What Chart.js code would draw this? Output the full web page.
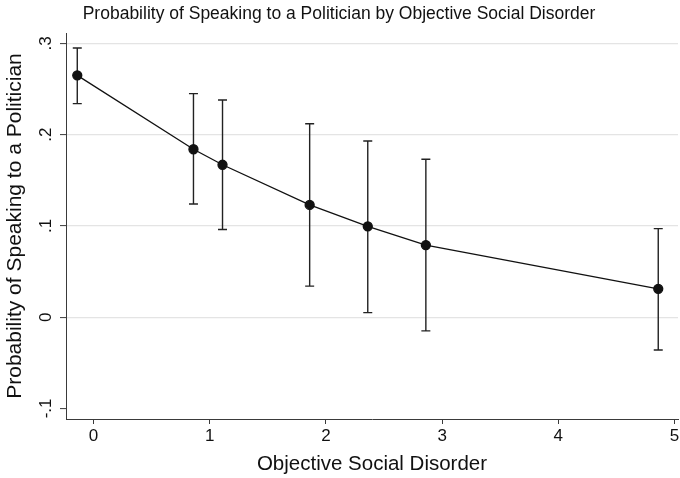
<!DOCTYPE html>
<html>
<head>
<meta charset="utf-8">
<title>Probability of Speaking to a Politician</title>
<script src="https://cdn.jsdelivr.net/npm/chart.js@4/dist/chart.umd.min.js"></script>
<style>
  html, body { margin: 0; padding: 0; background: #fff; }
  #wrap { width: 680px; height: 478px; }
</style>
</head>
<body>
<div id="wrap"><canvas id="chart" width="680" height="478"></canvas></div>
<script>
// Chart data
const disorderValues = [-0.14, 0.86, 1.11, 1.86, 2.36, 2.86, 4.86];
const probValues = [0.265, 0.184, 0.167, 0.123, 0.0995, 0.079, 0.031];
const upperCI = [0.295, 0.245, 0.238, 0.212, 0.193, 0.173, 0.097];
const lowerCI = [0.234, 0.124, 0.096, 0.034, 0.005, -0.015, -0.036];

const xTicks = [0, 1, 2, 3, 4, 5];
const yTicks = [-0.1, 0, 0.1, 0.2, 0.3];
const yTickLabels = ['-.1', '0', '.1', '.2', '.3'];

const FONT = "'Liberation Sans', Arial, Helvetica, sans-serif";
const INK = '#111';
const AXIS = '#3a3a3a';

// Error bars with caps, drawn under the points
const errorBars = {
    id: 'errorBars',
    beforeDatasetsDraw(chart) {
        const { ctx, scales: { x, y } } = chart;
        ctx.save();
        ctx.strokeStyle = '#222';
        ctx.lineWidth = 1.4;
        for (let i = 0; i < disorderValues.length; i++) {
            const px = x.getPixelForValue(disorderValues[i]);
            const top = y.getPixelForValue(upperCI[i]);
            const bot = y.getPixelForValue(lowerCI[i]);
            ctx.beginPath();
            ctx.moveTo(px, top);
            ctx.lineTo(px, bot);
            ctx.moveTo(px - 4.5, top);
            ctx.lineTo(px + 4.5, top);
            ctx.moveTo(px - 4.5, bot);
            ctx.lineTo(px + 4.5, bot);
            ctx.stroke();
        }
        ctx.restore();
    }
};

// Stata style y tick labels, turned to read bottom to top
const yLabels = {
    id: 'yLabels',
    afterDraw(chart) {
        const { ctx, scales: { y } } = chart;
        ctx.save();
        ctx.fillStyle = INK;
        ctx.font = '17px ' + FONT;
        ctx.textAlign = 'center';
        ctx.textBaseline = 'middle';
        yTicks.forEach((v, i) => {
            ctx.save();
            ctx.translate(46, y.getPixelForValue(v));
            ctx.rotate(-Math.PI / 2);
            ctx.fillText(yTickLabels[i], 0, 0);
            ctx.restore();
        });
        ctx.restore();
    }
};

const points = disorderValues.map((v, i) => ({ x: v, y: probValues[i] }));

new Chart(document.getElementById('chart'), {
    type: 'line',
    data: {
        datasets: [{
            data: points,
            borderColor: INK,
            borderWidth: 1.3,
            backgroundColor: '#111',
            pointBackgroundColor: '#111',
            pointBorderColor: '#111',
            pointRadius: 4.5,
            tension: 0,
            clip: false
        }]
    },
    options: {
        responsive: false,
        animation: false,
        layout: { autoPadding: false, padding: { left: 0, right: 2, top: 0, bottom: 0 } },
        plugins: {
            legend: { display: false },
            tooltip: { enabled: false },
            title: {
                display: true,
                text: 'Probability of Speaking to a Politician by Objective Social Disorder',
                color: INK,
                font: { family: FONT, size: 17.5, weight: 'normal' },
                padding: { top: 4, bottom: 8 }
            }
        },
        scales: {
            x: {
                type: 'linear',
                min: -0.237,
                max: 5.03,
                afterBuildTicks(scale) {
                    scale.ticks = xTicks.map(v => ({ value: v }));
                },
                afterFit(scale) {
                    scale.height = 59;
                    scale.paddingLeft = 0;
                    scale.paddingRight = 0;
                },
                ticks: {
                    color: INK,
                    font: { family: FONT, size: 17 },
                    padding: 2,
                    maxRotation: 0,
                    callback: v => String(v)
                },
                grid: {
                    drawOnChartArea: false,
                    tickLength: 5,
                    tickColor: AXIS,
                    tickWidth: 1
                },
                border: { color: AXIS, width: 1 },
                title: {
                    display: true,
                    text: 'Objective Social Disorder',
                    color: INK,
                    font: { family: FONT, size: 20.5 },
                    padding: { top: 0, bottom: 1 }
                }
            },
            y: {
                type: 'linear',
                min: -0.1116,
                max: 0.3114,
                afterBuildTicks(scale) {
                    scale.ticks = yTicks.map(v => ({ value: v }));
                },
                afterFit(scale) {
                    scale.width = 66;
                },
                ticks: { display: false },
                grid: {
                    color: ctx => (ctx.tick && ctx.tick.value === -0.1) ? 'rgba(0,0,0,0)' : '#e4e4e4',
                    lineWidth: 1.2,
                    tickLength: 6,
                    tickColor: AXIS,
                    tickWidth: 1
                },
                border: { color: AXIS, width: 1 },
                title: {
                    display: true,
                    text: 'Probability of Speaking to a Politician',
                    color: INK,
                    font: { family: FONT, size: 21 },
                    padding: { top: 3, bottom: 0 }
                }
            }
        }
    },
    plugins: [errorBars, yLabels]
});
</script>
</body>
</html>
